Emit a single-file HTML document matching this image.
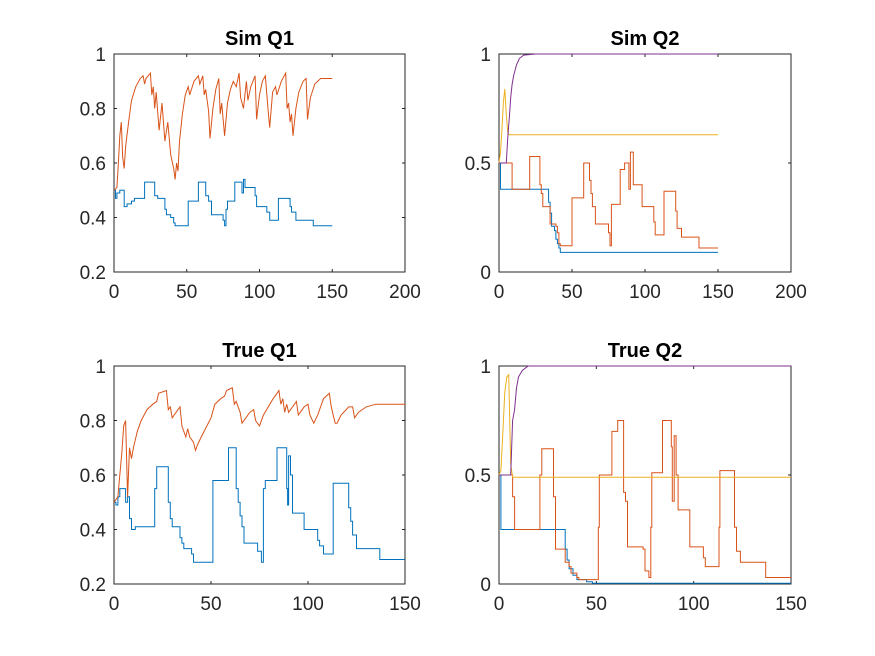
<!DOCTYPE html>
<html><head><meta charset="utf-8"><style>
body{margin:0;background:#fff;}
svg{display:block;font-family:"Liberation Sans",Arial,sans-serif;}
</style></head><body>
<svg id="fig" width="875" height="656" viewBox="0 0 875 656" xmlns="http://www.w3.org/2000/svg">
<rect width="875" height="656" fill="#fff"/>
</svg>
<script>
// ---- data arrays (x values, y values) ----
const simQ1OrangeX=[0,2,3,4,5,6,7,8,10,12,15,18,20,21,22,25,26,27,28,29,31,33,35,37,39,41,42,43,44,45,47,49,51,52,55,58,59,61,62,63,65,66,68,70,72,73,74,76,78,80,82,84,86,87,89,91,92,94,97,98,100,102,104,106,107,109,111,112,115,118,119,120,121,122,123,125,127,130,132,133,135,138,142,150];
const simQ1OrangeY=[0.5,0.51,0.6,0.7,0.75,0.62,0.58,0.66,0.75,0.83,0.88,0.91,0.92,0.89,0.91,0.93,0.85,0.88,0.8,0.86,0.72,0.82,0.68,0.75,0.63,0.58,0.54,0.6,0.57,0.68,0.78,0.85,0.88,0.85,0.9,0.92,0.89,0.92,0.85,0.87,0.79,0.69,0.8,0.87,0.91,0.78,0.82,0.7,0.82,0.87,0.9,0.88,0.93,0.84,0.8,0.9,0.83,0.88,0.92,0.76,0.85,0.9,0.92,0.79,0.73,0.86,0.88,0.85,0.9,0.93,0.8,0.82,0.75,0.78,0.7,0.8,0.86,0.9,0.91,0.76,0.84,0.89,0.91,0.91];
const simQ1BlueX=[0,1,2,4,5,7,9,12,14,20,21,27,28,30,33,35,36,38,39,41,42,50,51,57,58,62,63,65,67,71,75,76,77,78,82,83,87,88,89,90,95,97,98,104,105,107,112,113,120,121,122,125,136,137,150];
const simQ1BlueY=[0.5,0.47,0.49,0.5,0.5,0.44,0.45,0.46,0.47,0.47,0.53,0.53,0.48,0.47,0.47,0.43,0.41,0.41,0.4,0.38,0.37,0.37,0.46,0.46,0.53,0.53,0.48,0.46,0.41,0.41,0.39,0.37,0.43,0.46,0.46,0.53,0.53,0.49,0.54,0.51,0.51,0.48,0.44,0.44,0.42,0.39,0.39,0.47,0.47,0.44,0.42,0.39,0.39,0.37,0.37];

const simQ2PurpleX=[0,5,6,7,8,9,10,12,14,17,25,150];
const simQ2PurpleY=[0.5,0.5,0.62,0.7,0.8,0.86,0.9,0.95,0.98,0.995,1,1];
const simQ2YellowX=[0,1,2,3,4,5,6,7,150];
const simQ2YellowY=[0.5,0.55,0.65,0.78,0.84,0.72,0.64,0.63,0.63];
const simQ2OrangeX=[0,8,9,20,21,27,28,29,30,34,35,39,40,41,42,49,50,57,58,61,62,63,64,66,74,75,76,77,82,83,86,88,89,90,92,97,98,105,106,107,112,113,120,121,122,125,135,137,150];
const simQ2OrangeY=[0.5,0.5,0.38,0.38,0.53,0.53,0.4,0.36,0.3,0.3,0.22,0.21,0.18,0.13,0.12,0.12,0.34,0.34,0.5,0.5,0.42,0.36,0.3,0.22,0.22,0.18,0.12,0.31,0.31,0.47,0.5,0.5,0.38,0.55,0.4,0.4,0.3,0.3,0.23,0.17,0.17,0.37,0.37,0.28,0.2,0.16,0.16,0.11,0.11];
const simQ2BlueX=[0,1,33,34,35,36,38,39,40,41,42,150];
const simQ2BlueY=[0.5,0.38,0.38,0.32,0.27,0.21,0.19,0.15,0.13,0.11,0.09,0.09];

const trueQ1OrangeX=[0,2,3,4,5,6,7,8,9,10,12,14,17,20,22,23,27,28,29,30,33,34,35,37,38,39,41,42,43,45,50,52,55,57,58,61,62,63,65,66,70,72,73,75,77,82,84,85,86,87,88,89,90,92,94,95,98,100,101,103,105,108,111,112,113,114,115,117,121,123,124,126,130,135,150];
const trueQ1OrangeY=[0.5,0.52,0.6,0.68,0.78,0.8,0.52,0.7,0.66,0.7,0.76,0.8,0.84,0.86,0.87,0.9,0.91,0.84,0.85,0.81,0.84,0.85,0.78,0.74,0.77,0.74,0.72,0.69,0.71,0.74,0.81,0.86,0.88,0.89,0.91,0.92,0.86,0.87,0.83,0.79,0.83,0.84,0.8,0.78,0.82,0.88,0.9,0.91,0.86,0.88,0.83,0.86,0.83,0.85,0.87,0.82,0.85,0.86,0.82,0.79,0.82,0.88,0.9,0.85,0.82,0.79,0.79,0.82,0.85,0.85,0.81,0.83,0.85,0.86,0.86];
const trueQ1BlueX=[0,1,2,3,5,6,7,8,9,11,20,21,22,27,28,29,30,33,34,35,36,39,40,41,50,51,58,59,62,63,64,65,66,67,73,74,76,77,78,83,84,88,89,89.5,90,91,92,97,98,104,105,106,108,112,113,120,121,122,123,125,136,137,150];
const trueQ1BlueY=[0.5,0.49,0.52,0.55,0.55,0.5,0.52,0.44,0.4,0.41,0.41,0.55,0.63,0.63,0.5,0.44,0.41,0.41,0.37,0.35,0.33,0.33,0.31,0.28,0.28,0.58,0.58,0.7,0.7,0.55,0.5,0.45,0.41,0.35,0.35,0.32,0.28,0.55,0.58,0.58,0.7,0.7,0.55,0.49,0.67,0.6,0.46,0.46,0.4,0.4,0.36,0.34,0.31,0.31,0.57,0.57,0.48,0.43,0.38,0.33,0.33,0.29,0.29];

const trueQ2PurpleX=[0,6,7,8,9,10,12,15,150];
const trueQ2PurpleY=[0.5,0.5,0.75,0.8,0.9,0.95,0.98,1,1];
const trueQ2YellowX=[0,1,2,3,4,5,6,7,150];
const trueQ2YellowY=[0.5,0.52,0.7,0.88,0.95,0.96,0.55,0.49,0.49];
const trueQ2OrangeX=[0,6,7,8,20,21,22,27,28,29,33,34,36,37,40,41,50,51,51.5,57,58,61,63,64,65,66,74,75,77,78,78.5,83,84,88,88.5,89,90,91,92,97,98,104,105,106,112,113,113.5,120,121,122,124,136,137,150];
const trueQ2OrangeY=[0.5,0.5,0.4,0.25,0.25,0.5,0.62,0.62,0.4,0.16,0.16,0.1,0.08,0.05,0.03,0.02,0.02,0.26,0.5,0.5,0.7,0.75,0.75,0.42,0.38,0.17,0.16,0.06,0.03,0.26,0.51,0.51,0.75,0.75,0.63,0.38,0.68,0.5,0.34,0.34,0.17,0.17,0.12,0.08,0.08,0.26,0.52,0.52,0.26,0.15,0.1,0.1,0.03,0.03];
const trueQ2BlueX=[0,1,33,34,35,36,38,40,45,48,150];
const trueQ2BlueY=[0.5,0.25,0.25,0.16,0.11,0.07,0.04,0.02,0.01,0.003,0.003];

const ticksY01=[0.2,0.4,0.6,0.8,1];
const ticksY02=[0,0.5,1];
const ticksX200=[0,50,100,150,200];
const ticksX150=[0,50,100,150];

const C={blue:'#0072BD',orange:'#D95319',yellow:'#EDB120',purple:'#7E2F8E'};
const svg=document.getElementById('fig');
const NS='http://www.w3.org/2000/svg';
function mk(tag,attrs,parent){const e=document.createElementNS(NS,tag);for(const k in attrs)e.setAttribute(k,attrs[k]);parent.appendChild(e);return e;}

function axes(name,box,title,xmax,ymin,ymax,xt,yt,series){
  const g=mk('g',{},svg);
  
  
  const sx=v=>box.l+(v/xmax)*(box.r-box.l);
  const sy=v=>box.b-(v-ymin)/(ymax-ymin)*(box.b-box.t);
  const fr=mk('rect',{x:box.l,y:box.t,width:box.r-box.l,height:box.b-box.t,fill:'none',stroke:'#262626','stroke-width':1},g);
  
  
  xt.forEach(v=>{
    const x=sx(v);
    mk('line',{x1:x,x2:x,y1:box.b,y2:box.b-3,stroke:'#262626'},g);
    mk('line',{x1:x,x2:x,y1:box.t,y2:box.t+3,stroke:'#262626'},g);
    const t=mk('text',{x:x,y:box.b+26,'text-anchor':'middle','font-size':19,fill:'#262626'},g);
    t.textContent=String(v);
    
    
  });
  yt.forEach(v=>{
    const y=sy(v);
    mk('line',{x1:box.l,x2:box.l+3,y1:y,y2:y,stroke:'#262626'},g);
    mk('line',{x1:box.r,x2:box.r-3,y1:y,y2:y,stroke:'#262626'},g);
    const t=mk('text',{x:box.l-8,y:y+7,'text-anchor':'end','font-size':19,fill:'#262626'},g);
    t.textContent=String(v);
    
    
  });
  const lines=mk('g',{},g);
  
  
  series.forEach(s=>{
    let d='';
    s.x.forEach((x,i)=>{
      if(i===0){d+='M'+sx(x).toFixed(1)+' '+sy(s.y[i]).toFixed(1);}
      else if(s.stairs){d+=' H'+sx(x).toFixed(1)+' V'+sy(s.y[i]).toFixed(1);}
      else{d+=' L'+sx(x).toFixed(1)+' '+sy(s.y[i]).toFixed(1);}
    });
    const p=mk('path',{d:d,fill:'none',stroke:s.c,'stroke-width':1},lines);
    
    
  });
  const tt=mk('text',{x:(box.l+box.r)/2,y:box.t-9,'text-anchor':'middle','font-size':20,'font-weight':'bold',fill:'#000'},g);
  tt.textContent=title;
  
  
}

axes('sim-q1-chart',{l:114,r:405,t:54,b:272},'Sim Q1',200,0.2,1,ticksX200,ticksY01,[
  {n:'blue',c:C.blue,x:simQ1BlueX,y:simQ1BlueY,stairs:true},
  {n:'orange',c:C.orange,x:simQ1OrangeX,y:simQ1OrangeY}]);
axes('sim-q2-chart',{l:499,r:791,t:54,b:272},'Sim Q2',200,0,1,ticksX200,ticksY02,[
  {n:'blue',c:C.blue,x:simQ2BlueX,y:simQ2BlueY,stairs:true},
  {n:'orange',c:C.orange,x:simQ2OrangeX,y:simQ2OrangeY,stairs:true},
  {n:'yellow',c:C.yellow,x:simQ2YellowX,y:simQ2YellowY},
  {n:'purple',c:C.purple,x:simQ2PurpleX,y:simQ2PurpleY}]);
axes('true-q1-chart',{l:114,r:405,t:366,b:584},'True Q1',150,0.2,1,ticksX150,ticksY01,[
  {n:'blue',c:C.blue,x:trueQ1BlueX,y:trueQ1BlueY,stairs:true},
  {n:'orange',c:C.orange,x:trueQ1OrangeX,y:trueQ1OrangeY}]);
axes('true-q2-chart',{l:499,r:791,t:366,b:584},'True Q2',150,0,1,ticksX150,ticksY02,[
  {n:'blue',c:C.blue,x:trueQ2BlueX,y:trueQ2BlueY,stairs:true},
  {n:'orange',c:C.orange,x:trueQ2OrangeX,y:trueQ2OrangeY,stairs:true},
  {n:'yellow',c:C.yellow,x:trueQ2YellowX,y:trueQ2YellowY},
  {n:'purple',c:C.purple,x:trueQ2PurpleX,y:trueQ2PurpleY}]);
</script>
</body></html>
